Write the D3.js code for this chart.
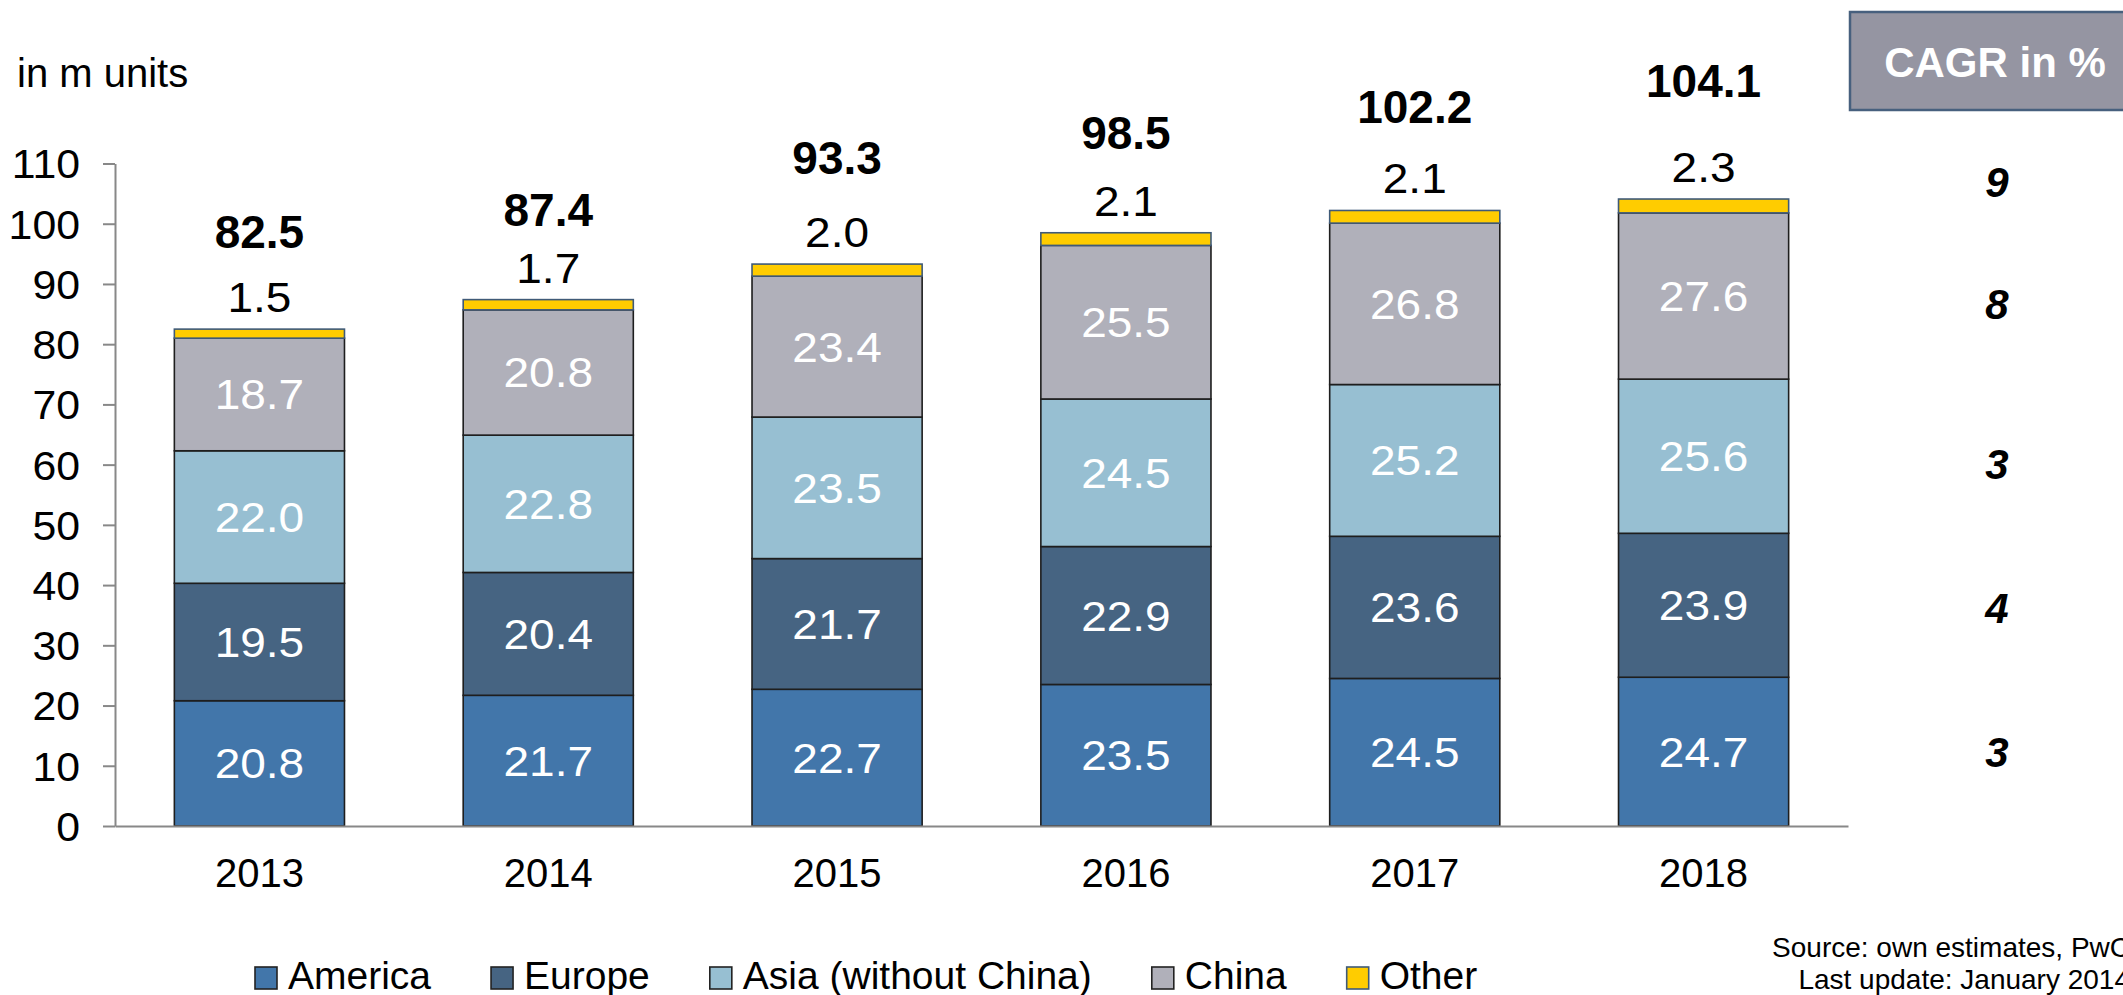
<!DOCTYPE html>
<html>
<head>
<meta charset="utf-8">
<script src="https://cdnjs.cloudflare.com/ajax/libs/d3/7.8.5/d3.min.js"></script>
<style>
  html, body { margin: 0; padding: 0; background: #fff; }
  svg { display: block; font-family: "Liberation Sans", Arial, sans-serif; }
</style>
</head>
<body>
<svg id="chart" width="2123" height="995"></svg>
<script>
// ---- data ----
const years = ["2013", "2014", "2015", "2016", "2017", "2018"];
const seriesNames = ["America", "Europe", "Asia (without China)", "China", "Other"];
const america = [20.8, 21.7, 22.7, 23.5, 24.5, 24.7];
const europe  = [19.5, 20.4, 21.7, 22.9, 23.6, 23.9];
const asia    = [22.0, 22.8, 23.5, 24.5, 25.2, 25.6];
const china   = [18.7, 20.8, 23.4, 25.5, 26.8, 27.6];
const other   = [1.5, 1.7, 2.0, 2.1, 2.1, 2.3];
const totals  = [82.5, 87.4, 93.3, 98.5, 102.2, 104.1];
const cagr    = [3, 4, 3, 8, 9]; // America, Europe, Asia, China, Other
const yTicks  = [0, 10, 20, 30, 40, 50, 60, 70, 80, 90, 100, 110];

// ---- layout / style ----
const colors = ["#4276AA", "#466482", "#97BFD2", "#B0B0BA", "#FFCC00"];
const strokes = ["#1e1e1e", "#1e1e1e", "#1e1e1e", "#1e1e1e", "#3f5a78"];
const totalOffsets = [81, 74, 90, 84, 87, 102];      // px above bar top (label baseline)
const cagrLevels = [12.3, 36.2, 60.1, 86.7, 107.0];  // vertical anchor in axis units
const stretch = 1.07;

const svg = d3.select("#chart");

const x = d3.scaleBand().domain(years).range([115, 1848]).paddingInner(0.411).paddingOuter(0.2055);
const y = d3.scaleLinear().domain([0, 110]).range([826, 163.5]);

const seriesVals = [america, europe, asia, china, other];
const table = years.map((yr, i) => {
  const o = { year: yr };
  seriesNames.forEach((s, k) => o[s] = seriesVals[k][i]);
  return o;
});
const stacked = d3.stack().keys(seriesNames)(table);

// bars
const layers = svg.append("g").selectAll("g").data(stacked).join("g")
  .attr("fill", (d, k) => colors[k])
  .attr("stroke", (d, k) => strokes[k])
  .attr("stroke-width", 1.6);

layers.selectAll("rect").data(d => d).join("rect")
  .attr("x", d => x(d.data.year))
  .attr("width", x.bandwidth())
  .attr("y", d => y(d[1]))
  .attr("height", d => y(d[0]) - y(d[1]));

// segment labels (white) for first four series
stacked.slice(0, 4).forEach((layer, k) => {
  svg.append("g").selectAll("text").data(layer).join("text")
    .attr("transform", d => `translate(${x(d.data.year) + x.bandwidth() / 2},${(y(d[0]) + y(d[1])) / 2 + 15}) scale(${stretch},1)`)
    .attr("text-anchor", "middle")
    .attr("font-size", 43)
    .attr("fill", "#fff")
    .text(d => (d[1] - d[0]).toFixed(1));
});

// Other labels above bars
svg.append("g").selectAll("text").data(stacked[4]).join("text")
  .attr("transform", d => `translate(${x(d.data.year) + x.bandwidth() / 2},${y(d[1]) - 17}) scale(${stretch},1)`)
  .attr("text-anchor", "middle")
  .attr("font-size", 43)
  .attr("fill", "#000")
  .text(d => (d[1] - d[0]).toFixed(1));

// totals
svg.append("g").selectAll("text").data(totals).join("text")
  .attr("x", (d, i) => x(years[i]) + x.bandwidth() / 2)
  .attr("y", (d, i) => y(d) - totalOffsets[i])
  .attr("text-anchor", "middle")
  .attr("font-size", 46)
  .attr("font-weight", "bold")
  .attr("fill", "#000")
  .text(d => d.toFixed(1));

// y axis
const yAxis = svg.append("g").attr("transform", "translate(115,0)")
  .call(d3.axisLeft(y).tickValues(yTicks).tickSize(12).tickPadding(23).tickSizeOuter(0));
yAxis.select(".domain").attr("stroke", "#888").attr("stroke-width", 2);
yAxis.selectAll(".tick line").attr("stroke", "#888").attr("stroke-width", 2);
yAxis.selectAll(".tick text").attr("font-size", 40).attr("fill", "#000")
  .attr("font-family", "Liberation Sans, Arial, sans-serif").attr("dy", "0.36em")
  .attr("transform", `translate(-35,0) scale(${stretch},1) translate(35,0)`);

// x axis
const xAxis = svg.append("g").attr("transform", "translate(0,826)")
  .call(d3.axisBottom(x).tickSize(0).tickPadding(33).tickSizeOuter(0));
xAxis.select(".domain").attr("stroke", "#888").attr("stroke-width", 2);
xAxis.selectAll(".tick text").attr("font-size", 40).attr("fill", "#000")
  .attr("font-family", "Liberation Sans, Arial, sans-serif");

// unit label
svg.append("text").attr("x", 17).attr("y", 87).attr("font-size", 40).attr("fill", "#000").text("in m units");

// CAGR box
svg.append("rect").attr("x", 1850).attr("y", 12).attr("width", 300).attr("height", 98)
  .attr("fill", "#9595A2").attr("stroke", "#47607E").attr("stroke-width", 2.5);
svg.append("text").attr("x", 1995).attr("y", 77).attr("text-anchor", "middle")
  .attr("font-size", 42).attr("font-weight", "bold").attr("fill", "#fff").text("CAGR in %");

svg.append("g").selectAll("text").data(cagr).join("text")
  .attr("x", 1997)
  .attr("y", (d, k) => y(cagrLevels[k]) + 15)
  .attr("text-anchor", "middle")
  .attr("font-size", 42)
  .attr("font-weight", "bold")
  .attr("font-style", "italic")
  .attr("fill", "#000")
  .text(d => d);

// legend
const legend = svg.append("g");
let lx = 255;
seriesNames.forEach((name, k) => {
  legend.append("rect").attr("x", lx).attr("y", 967).attr("width", 22).attr("height", 22)
    .attr("fill", colors[k]).attr("stroke", k === 4 ? "#3f5a78" : "#222").attr("stroke-width", 1.6);
  const t = legend.append("text").attr("x", lx + 33).attr("y", 989)
    .attr("font-size", 39).attr("fill", "#000").text(name);
  lx += 33 + t.node().getComputedTextLength() + 60;
});

// source
svg.append("text").attr("x", 2130).attr("y", 957).attr("text-anchor", "end")
  .attr("font-size", 28).attr("fill", "#000").text("Source: own estimates, PwC");
svg.append("text").attr("x", 2130).attr("y", 989).attr("text-anchor", "end")
  .attr("font-size", 28).attr("fill", "#000").text("Last update: January 2014");
</script>
</body>
</html>
